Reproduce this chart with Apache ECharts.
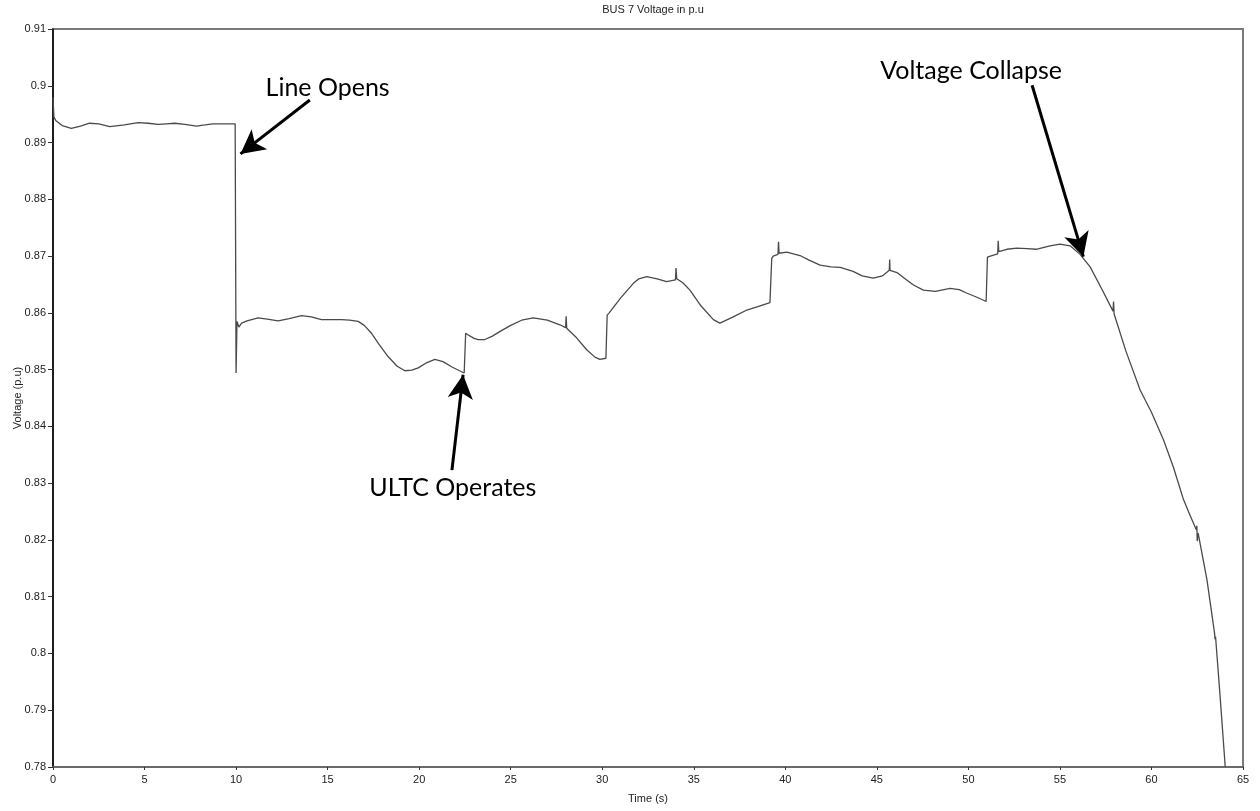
<!DOCTYPE html>
<html>
<head>
<meta charset="utf-8">
<script src="https://cdn.jsdelivr.net/npm/echarts@6/dist/echarts.min.js"></script>
<style>
html,body{margin:0;padding:0;background:#fff;}
#c{width:1260px;height:811px;}
</style>
</head>
<body>
<div id="c"></div>
<script>
// Time (s)
const T = [0, 0.05, 0.15, 0.5, 1.0, 1.5, 2.0, 2.5, 3.1, 3.9, 4.65, 5.2, 5.74, 6.2, 6.65, 7.2, 7.84, 8.3, 8.74, 9.3, 9.95,
  9.97, 10.0, 10.05, 10.15, 10.3, 10.6, 11.2, 11.7, 12.3, 12.9, 13.57, 14.1, 14.67, 15.2, 15.76, 16.2, 16.67, 17.0, 17.4, 17.8,
  18.3, 18.8, 19.22, 19.6, 19.95, 20.4, 20.86, 21.3, 21.77, 22.2, 22.46, 22.54, 22.68, 23.0, 23.22, 23.59, 24.0, 24.4, 25.0,
  25.6, 26.23, 27.0, 27.69, 28.0, 28.03, 28.06, 28.6, 29.15, 29.6, 29.87, 30.2, 30.27, 30.38, 31.0, 31.7, 32.0, 32.43, 33.0,
  33.52, 34.0, 34.03, 34.07, 34.4, 34.79, 35.4, 36.07, 36.43, 37.1, 37.9, 38.5, 39.16, 39.26, 39.34, 39.6, 39.63, 39.66,
  40.08, 40.8, 41.3, 41.9, 42.5, 43.0, 43.7, 44.2, 44.8, 45.3, 45.68, 45.7, 45.72, 46.1, 46.63, 47.0, 47.54, 48.2, 49.0,
  49.5, 49.9, 50.5, 50.97, 51.04, 51.2, 51.6, 51.63, 51.66, 52.1, 52.64, 53.2, 53.7, 54.46, 55.0, 55.56, 56.1, 56.65, 57.3,
  57.9, 57.93, 57.96, 58.6, 59.38, 60.0, 60.66, 61.2, 61.75, 62.1, 62.45, 62.48, 62.5, 62.55, 63.03, 63.45, 63.47, 63.5,
  63.75, 64.03];
// Bus 7 voltage (p.u)
const V = [0.898, 0.8945, 0.8939, 0.893, 0.8925, 0.8929, 0.8934, 0.8933, 0.8928, 0.8931, 0.8935, 0.8934, 0.8932, 0.8933, 0.8934, 0.8932, 0.8929, 0.8931, 0.8933, 0.8933, 0.8933,
  0.8933, 0.8494, 0.8585, 0.8575, 0.8582, 0.8586, 0.8591, 0.8589, 0.8586, 0.859, 0.8595, 0.8593, 0.8588, 0.8588, 0.8588, 0.8587, 0.8585, 0.8578, 0.8564, 0.8545,
  0.8523, 0.8506, 0.8498, 0.8499, 0.8503, 0.8512, 0.8518, 0.8514, 0.8505, 0.8498, 0.8494, 0.8564, 0.8561, 0.8555, 0.8553, 0.8553, 0.8559, 0.8567, 0.8578,
  0.8587, 0.8591, 0.8587, 0.8579, 0.8574, 0.8594, 0.8573, 0.8556, 0.8535, 0.8522, 0.8518, 0.852, 0.8596, 0.86, 0.8626, 0.8652, 0.866, 0.8664, 0.866,
  0.8655, 0.8658, 0.8679, 0.866, 0.8653, 0.864, 0.8612, 0.8588, 0.8582, 0.8592, 0.8605, 0.8611, 0.8618, 0.8696, 0.87, 0.8703, 0.8725, 0.8705,
  0.8707, 0.8701, 0.8693, 0.8684, 0.8681, 0.868, 0.8673, 0.8665, 0.8661, 0.8665, 0.8675, 0.8694, 0.8675, 0.8671, 0.8658, 0.8649, 0.864, 0.8638, 0.8643,
  0.8641, 0.8635, 0.8627, 0.862, 0.8698, 0.87, 0.8704, 0.8727, 0.8708, 0.8712, 0.8714, 0.8713, 0.8712, 0.8718, 0.8721, 0.8718, 0.8703, 0.8681, 0.8641,
  0.8603, 0.862, 0.8598, 0.8533, 0.8464, 0.8425, 0.8376, 0.8328, 0.8271, 0.8244, 0.8218, 0.8225, 0.8198, 0.8212, 0.813, 0.8035, 0.8025, 0.803,
  0.7924, 0.78];

// Annotations (data coordinates)
const ANN_TEXT = ['Line Opens', 'ULTC Operates', 'Voltage Collapse'];
const ANN_TEXT_AT = [[15.0, 0.8996], [21.84, 0.8292], [50.15, 0.9026]];
const ARROW_FROM = [[14.03, 0.8975], [21.79, 0.8323], [53.48, 0.9001]];
const ARROW_TO = [[10.24, 0.888], [22.4, 0.8491], [56.28, 0.8699]];

const X_MIN = 0, X_MAX = 65, X_STEP = 5;
const Y_MIN = 0.78, Y_MAX = 0.91, Y_STEP = 0.01;

const chart = echarts.init(document.getElementById('c'), null, {renderer: 'canvas'});
const pts = T.map((t, i) => [t, V[i]]);

chart.setOption({
  animation: false,
  backgroundColor: '#fff',
  title: {
    text: 'BUS 7 Voltage in p.u',
    left: 648, textAlign: 'center', top: -1,
    textStyle: {fontFamily: 'Liberation Sans', fontSize: 11, fontWeight: 'normal', color: '#222'}
  },
  grid: {left: 53, right: 17, top: 29, bottom: 44, show: true, borderColor: '#7a7a7a', borderWidth: 2, backgroundColor: '#fff',
         containLabel: false, outerBoundsMode: 'none'},
  xAxis: {
    type: 'value', min: X_MIN, max: X_MAX, interval: X_STEP,
    name: 'Time (s)', nameLocation: 'middle', nameGap: 26, nameMoveOverlap: false,
    nameTextStyle: {fontFamily: 'Liberation Sans', fontSize: 11, color: '#222'},
    axisLine: {show: true, onZero: false, lineStyle: {color: '#6a6a6a', width: 2}},
    axisTick: {show: true, inside: false, length: 3, lineStyle: {color: '#333', width: 1}},
    axisLabel: {fontFamily: 'Liberation Sans', fontSize: 11, color: '#222', margin: 7},
    splitLine: {show: false}
  },
  yAxis: {
    type: 'value', min: Y_MIN, max: Y_MAX, interval: Y_STEP,
    name: 'Voltage (p.u)', nameLocation: 'middle', nameGap: 30, nameRotate: 90, nameMoveOverlap: false,
    nameTextStyle: {fontFamily: 'Liberation Sans', fontSize: 11, color: '#222'},
    axisLine: {show: true, onZero: false, lineStyle: {color: '#000', width: 1.5}},
    axisTick: {show: true, inside: false, length: 5, lineStyle: {color: '#333', width: 1}},
    axisLabel: {fontFamily: 'Liberation Sans', fontSize: 11, color: '#222', margin: 7},
    splitLine: {show: false}
  },
  series: [{
    type: 'line',
    data: pts,
    showSymbol: false,
    symbol: 'none',
    smooth: false,
    clip: true,
    lineStyle: {color: '#4a4a4a', width: 1.3},
    markLine: {
      silent: true,
      symbol: ['none', 'arrow'],
      symbolSize: [19, 24],
      label: {show: false},
      lineStyle: {color: '#000', width: 3, type: 'solid'},
      emphasis: {disabled: true},
      data: ARROW_FROM.map((f, i) => [{coord: f}, {coord: ARROW_TO[i]}])
    },
    markPoint: {
      silent: true,
      symbol: 'circle',
      symbolSize: 0,
      itemStyle: {color: 'transparent'},
      label: {
        show: true, position: 'inside',
        fontFamily: 'Lato', fontSize: 25, color: '#000',
        formatter: p => p.name
      },
      data: ANN_TEXT.map((n, i) => ({name: n, coord: ANN_TEXT_AT[i]}))
    }
  }]
});
</script>
</body>
</html>
